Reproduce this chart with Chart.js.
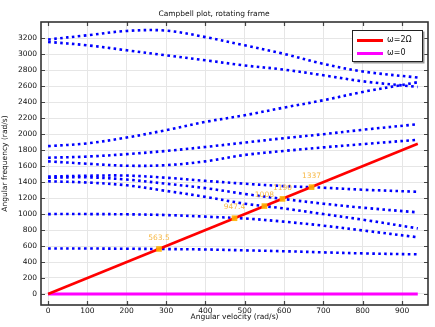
<!DOCTYPE html>
<html><head><meta charset="utf-8">
<script src="https://cdn.jsdelivr.net/npm/chart.js@4/dist/chart.umd.min.js"></script>
<style>
html,body{margin:0;padding:0;background:#fff}
#wrap{position:relative;width:435px;height:327px}
#lg{position:absolute;left:352px;top:30px;width:69px;height:30px;border:1.5px solid #222;box-shadow:1.5px 1.5px 0 #999;background:#fff;font:8px "DejaVu Sans",sans-serif;color:#111}
.row{position:absolute;left:0;height:10px;line-height:10px}
.sw{position:absolute;left:4px;top:4px;width:26px;height:2.5px}
.tx{position:absolute;left:34px;top:0;white-space:nowrap}
</style></head>
<body><div id="wrap"><canvas id="c" width="435" height="327"></canvas>
<div id="lg">
<div class="row" style="top:4px;width:69px"><div class="sw" style="background:#ff0000"></div><div class="tx">ω=2Ω</div></div>
<div class="row" style="top:17px;width:69px"><div class="sw" style="background:#ff00ff"></div><div class="tx">ω=0</div></div>
</div></div>
<script>
// Angular velocity samples (rad/s)
const omega = [0,100,200,300,400,500,600,700,800,940];
// Eigenfrequencies (rad/s) of each mode branch
const mode1 = [3185,3238,3292,3296,3215,3112,3005,2880,2785,2708];
const mode2 = [3155,3112,3050,2987,2925,2860,2808,2737,2662,2591];
const mode3 = [1850,1885,1958,2050,2154,2237,2333,2425,2529,2650];
const mode4 = [1705,1720,1750,1790,1840,1895,1950,2000,2055,2125];
const mode5 = [1660,1630,1605,1612,1660,1740,1790,1835,1875,1930];
const mode6 = [1470,1480,1482,1455,1416,1380,1350,1330,1305,1279];
const mode7 = [1455,1460,1432,1380,1325,1252,1188,1130,1080,1021];
const mode8 = [1410,1395,1360,1290,1215,1130,1070,1000,930,821];
const mode9 = [1000,1000,997,988,968,945,905,855,795,710];
const mode10 = [570,569,566,562,557,546,535,521,508,496];
// Excitation lines
const lineX = [0,940];
const line2Omega = [0,1880];
const line0 = [0,0];
// Critical speed markers
const critX = [282,474,550,596,670];
const critY = [563.5,948,1100,1190,1337];
const critLabels = ['563.5','947.4','1008','1190','1337'];
// Ticks
const xTicks = [0,100,200,300,400,500,600,700,800,900];
const yTicks = [0,200,400,600,800,1000,1200,1400,1600,1800,2000,2200,2400,2600,2800,3000,3200];

const modes = [mode1,mode2,mode3,mode4,mode5,mode6,mode7,mode8,mode9,mode10];
const FONT = '"DejaVu Sans", sans-serif';
const datasets = modes.map(m => ({
  data: omega.map((o,i)=>({x:o,y:m[i]})),
  borderColor:'#0000ff', borderWidth:2.6, borderDash:[2.6,3.4], borderCapStyle:'butt',
  pointRadius:0, tension:0.35, fill:false, order:3
}));
datasets.push({data: lineX.map((o,i)=>({x:o,y:line0[i]})), borderColor:'#ff00ff', borderWidth:3, pointRadius:0, order:2});
datasets.push({data: lineX.map((o,i)=>({x:o,y:line2Omega[i]})), borderColor:'#ff0000', borderWidth:2.6, pointRadius:0, order:1});
datasets.push({type:'scatter', data: critX.map((o,i)=>({x:o,y:critY[i]})), backgroundColor:'rgba(255,176,0,0.9)', borderWidth:0, pointStyle:'rect', pointRadius:4, order:0});

const frame = {id:'frame', afterDraw(c){
  const {ctx, chartArea:a, scales:{x,y}} = c;
  ctx.save(); ctx.strokeStyle='#444'; ctx.lineWidth=1.2; ctx.beginPath();
  xTicks.forEach(v=>{const p=Math.round(x.getPixelForValue(v))+0.5; ctx.moveTo(p,a.bottom); ctx.lineTo(p,a.bottom-4); ctx.moveTo(p,a.top); ctx.lineTo(p,a.top+4);});
  yTicks.forEach(v=>{const p=Math.round(y.getPixelForValue(v))+0.5; ctx.moveTo(a.left,p); ctx.lineTo(a.left+4,p); ctx.moveTo(a.right,p); ctx.lineTo(a.right-4,p);});
  ctx.stroke();
  ctx.lineWidth=1.6; ctx.strokeStyle='#333'; ctx.strokeRect(a.left,a.top,a.right-a.left,a.bottom-a.top);
  ctx.restore();
}};
const crit = {id:'crit', afterDatasetsDraw(c){
  const {ctx, scales:{x,y}} = c;
  ctx.save(); ctx.font='7.5px '+FONT; ctx.fillStyle='#f7b845'; ctx.textAlign='center'; ctx.textBaseline='middle';
  critX.forEach((v,i)=>{ ctx.fillText(critLabels[i], x.getPixelForValue(v), y.getPixelForValue(critY[i])-11); });
  ctx.restore();
}};

new Chart(document.getElementById('c'), {
  type:'line',
  data:{datasets},
  options:{
    responsive:false, animation:false, devicePixelRatio:1,
    layout:{padding:{left:0,right:7,top:0,bottom:0}},
    plugins:{
      legend:{display:false}, tooltip:{enabled:false},
      title:{display:true, text:'Campbell plot, rotating frame', color:'#111', font:{family:FONT,size:7.5,weight:'normal'}, padding:{top:10,bottom:3}}
    },
    scales:{
      x:{type:'linear', min:-18, max:966, border:{display:false},
        afterBuildTicks:s=>{s.ticks = xTicks.map(v=>({value:v}));},
        afterFit:s=>{s.height=22;},
        grid:{color:'#e6e6e6', lineWidth:1, drawTicks:false},
        ticks:{padding:2, color:'#111', font:{family:FONT,size:7.5}, maxRotation:0, autoSkip:false, callback:v=>String(v)},
        title:{display:true, text:'Angular velocity (rad/s)', color:'#111', font:{family:FONT,size:7.5}, padding:{top:0,bottom:5}}},
      y:{type:'linear', min:-138, max:3404, border:{display:false},
        afterBuildTicks:s=>{s.ticks = yTicks.map(v=>({value:v}));},
        afterFit:s=>{s.width=41;},
        grid:{color:'#e6e6e6', lineWidth:1, drawTicks:false},
        ticks:{padding:4, color:'#111', font:{family:FONT,size:7.5}, autoSkip:false, callback:v=>String(v)},
        title:{display:true, text:'Angular frequency (rad/s)', color:'#111', font:{family:FONT,size:7.5}, padding:{top:1,bottom:0}}}
    }
  },
  plugins:[frame, crit]
});
</script></body></html>
